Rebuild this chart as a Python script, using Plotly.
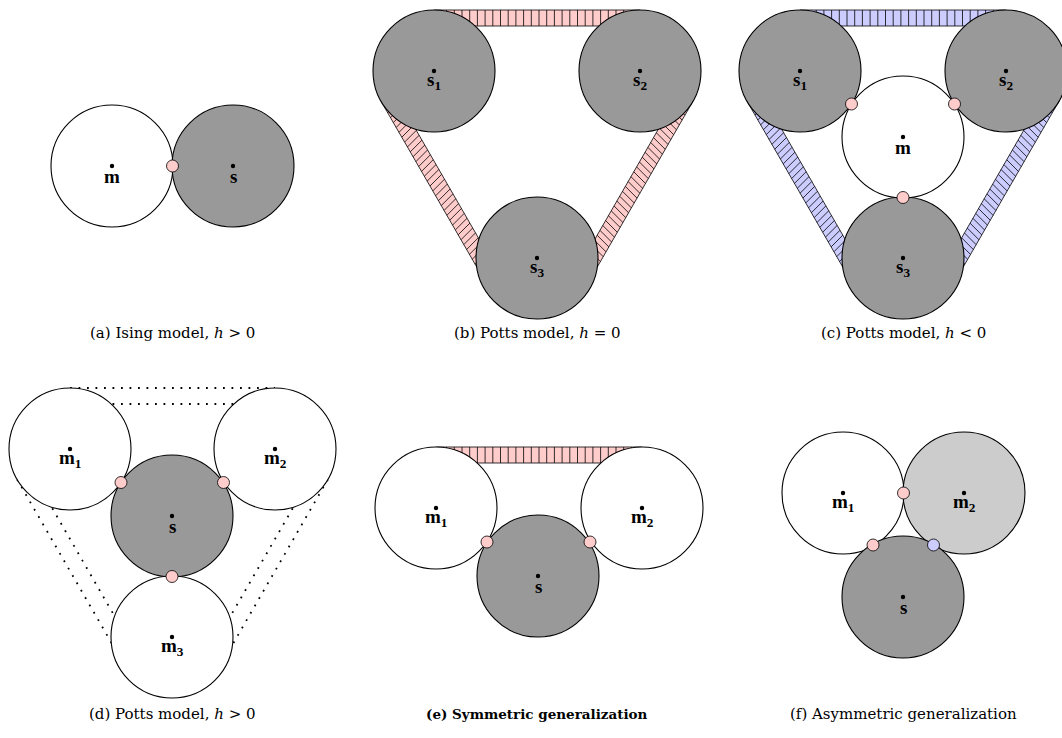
import numpy as np
import plotly.graph_objects as go

# ---------------- data (diagram geometry, pixel units of the axes) ----------------
R = 61.0          # circle radius
BAND_W = 16.0     # width of the interaction bands

# (a) Ising model
a_names = ["m", "s"]
a_x = [112, 233]
a_y = [166, 166]
a_fill = ["white", "dark"]
a_links = [(0, 1, "pink")]

# (b) Potts model, h = 0
b_names = ["s<sub>1</sub>", "s<sub>2</sub>", "s<sub>3</sub>"]
b_x = [434, 640, 537]
b_y = [71, 71, 258]
b_fill = ["dark", "dark", "dark"]
b_bands = [(0, 1, 270, "|"), (0, 2, 150, "/"), (1, 2, 30, "\\")]

# (c) Potts model, h < 0
c_names = ["s<sub>1</sub>", "s<sub>2</sub>", "s<sub>3</sub>", "m"]
c_x = [800, 1006, 903, 903]
c_y = [71, 71, 258, 137]
c_fill = ["dark", "dark", "dark", "white"]
c_links = [(3, 0, "pink"), (3, 1, "pink"), (3, 2, "pink")]
c_bands = [(0, 1, 270, "|"), (0, 2, 150, "/"), (1, 2, 30, "\\")]

# (d) Potts model, h > 0
d_names = ["m<sub>1</sub>", "m<sub>2</sub>", "s", "m<sub>3</sub>"]
d_x = [70, 275, 172, 172]
d_y = [449, 449, 516, 637]
d_fill = ["white", "white", "dark", "white"]
d_links = [(2, 0, "pink"), (2, 1, "pink"), (2, 3, "pink")]
d_bands = [(0, 1, 270), (0, 3, 150), (1, 3, 30)]

# (e) Symmetric generalization
e_names = ["m<sub>1</sub>", "m<sub>2</sub>", "s"]
e_x = [436, 642, 538]
e_y = [508, 508, 576]
e_fill = ["white", "white", "dark"]
e_links = [(2, 0, "pink"), (2, 1, "pink")]
e_bands = [(0, 1, 270, "|")]

# (f) Asymmetric generalization
f_names = ["m<sub>1</sub>", "m<sub>2</sub>", "s"]
f_x = [843, 964, 903]
f_y = [493, 493, 597]
f_fill = ["white", "light", "dark"]
f_links = [(0, 1, "pink"), (2, 0, "pink"), (2, 1, "blue")]

captions = [
    "(a) Ising model, <i>h</i> &gt; 0",
    "(b) Potts model, <i>h</i> = 0",
    "(c) Potts model, <i>h</i> &lt; 0",
    "(d) Potts model, <i>h</i> &gt; 0",
    "<b>(e) Symmetric generalization</b>",
    "(f) Asymmetric generalization",
]
caption_bold = [False, False, False, False, True, False]
caption_x = [172, 537, 903, 172, 537, 903]
caption_y = [333, 333, 333, 714, 714, 714]

# ---------------- styles ----------------
FILL = {"white": "#ffffff", "dark": "#999999", "light": "#cccccc"}
DOT = {"pink": "#ffcccc", "blue": "#ccccff"}
HATCH_SPACING = {"|": 7.7, "/": 7.7, "\\": 7.7}
HATCH_NORMAL = {"|": np.array([1.0, 0.0]), "/": np.array([1.0, 1.0]), "\\": np.array([1.0, -1.0])}

fig = go.Figure()
shapes = []
annotations = []


def band_geometry(xs, ys, i, j, ang):
    n = np.array([np.cos(np.radians(ang)), np.sin(np.radians(ang))])
    A = np.array([xs[i], ys[i]], float)
    B = np.array([xs[j], ys[j]], float)
    off = n @ A + R
    pA = A + (off - n @ A) * n
    pB = B + (off - n @ B) * n
    return pA, pB, n


def hatch(quad, kind):
    a = HATCH_NORMAL[kind]
    sp = HATCH_SPACING[kind]
    vals = [a @ p for p in quad]
    xs, ys = [], []
    c = np.ceil(min(vals) / sp) * sp
    while c < max(vals):
        pts = []
        for k in range(4):
            p0, p1 = quad[k], quad[(k + 1) % 4]
            f0, f1 = a @ p0 - c, a @ p1 - c
            if (f0 <= 0 < f1) or (f1 <= 0 < f0):
                t = f0 / (f0 - f1)
                pts.append(p0 + t * (p1 - p0))
        if len(pts) == 2:
            xs += [pts[0][0], pts[1][0], None]
            ys += [pts[0][1], pts[1][1], None]
        c += sp
    return xs, ys


def add_hatched_bands(xs, ys, bands, color):
    for i, j, ang, kind in bands:
        pA, pB, n = band_geometry(xs, ys, i, j, ang)
        quad = [pA, pB, pB - BAND_W * n, pA - BAND_W * n]
        qx = [p[0] for p in quad] + [quad[0][0]]
        qy = [p[1] for p in quad] + [quad[0][1]]
        fig.add_trace(go.Scatter(x=qx, y=qy, mode="lines", fill="toself",
                                 fillcolor=DOT[color], line=dict(color="black", width=0.8),
                                 hoverinfo="skip", showlegend=False))
        hx, hy = hatch(quad, kind)
        fig.add_trace(go.Scatter(x=hx, y=hy, mode="lines",
                                 line=dict(color="black", width=0.8),
                                 hoverinfo="skip", showlegend=False))


def add_dotted_bands(xs, ys, bands):
    for i, j, ang in bands:
        pA, pB, n = band_geometry(xs, ys, i, j, ang)
        for off in (0.0, BAND_W):
            p0, p1 = pA - off * n, pB - off * n
            fig.add_trace(go.Scatter(x=[p0[0], p1[0]], y=[p0[1], p1[1]], mode="lines",
                                     line=dict(color="black", width=1.8, dash="1.8px,6.7px"),
                                     hoverinfo="skip", showlegend=False))


def add_circles(names, xs, ys, fills, links=()):
    for x, y, f in zip(xs, ys, fills):
        shapes.append(dict(type="circle", xref="x", yref="y",
                           x0=x - R, x1=x + R, y0=y - R, y1=y + R,
                           fillcolor=FILL[f], line=dict(color="black", width=1.1),
                           layer="above"))
    for i, j, col in links:
        mx, my = (xs[i] + xs[j]) / 2, (ys[i] + ys[j]) / 2
        shapes.append(dict(type="circle", xref="x", yref="y",
                           x0=mx - 6, x1=mx + 6, y0=my - 6, y1=my + 6,
                           fillcolor=DOT[col], line=dict(color="black", width=0.8),
                           layer="above"))
    for name, x, y in zip(names, xs, ys):
        shapes.append(dict(type="circle", xref="x", yref="y",
                           x0=x - 2.2, x1=x + 2.2, y0=y - 2.2, y1=y + 2.2,
                           fillcolor="black", line=dict(color="black", width=0),
                           layer="above"))
        annotations.append(dict(x=x, y=y + 10, xref="x", yref="y", text="<b>" + name + "</b>",
                                showarrow=False, xanchor="center", yanchor="middle",
                                font=dict(family="Liberation Serif", size=19, color="black")))


# bands first (beneath circles)
add_hatched_bands(b_x, b_y, b_bands, "pink")
add_hatched_bands(c_x, c_y, c_bands, "blue")
add_dotted_bands(d_x, d_y, d_bands)
add_hatched_bands(e_x, e_y, e_bands, "pink")

add_circles(a_names, a_x, a_y, a_fill, a_links)
add_circles(b_names, b_x, b_y, b_fill)
add_circles(c_names, c_x, c_y, c_fill, c_links)
add_circles(d_names, d_x, d_y, d_fill, d_links)
add_circles(e_names, e_x, e_y, e_fill, e_links)
add_circles(f_names, f_x, f_y, f_fill, f_links)

for t, x, y, b in zip(captions, caption_x, caption_y, caption_bold):
    annotations.append(dict(x=x, y=y, xref="x", yref="y", text=t, showarrow=False,
                            xanchor="center", yanchor="middle",
                            font=dict(family="DejaVu Serif", size=13.5 if b else 15, color="black")))

fig.update_layout(
    width=1062, height=738,
    margin=dict(l=0, r=0, t=0, b=0),
    paper_bgcolor="white", plot_bgcolor="white",
    xaxis=dict(range=[0, 1062], visible=False, fixedrange=True),
    yaxis=dict(range=[738, 0], visible=False, fixedrange=True),
    shapes=shapes, annotations=annotations, showlegend=False,
)

fig.write_html("out.html", config={"displayModeBar": False},
               post_script="document.body.style.margin='0px';")
